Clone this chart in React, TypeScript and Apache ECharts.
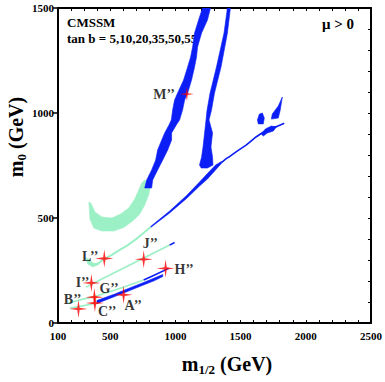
import React, { useEffect, useRef } from 'react';
import * as echarts from 'echarts';

type P = [number, number];

const SERIF = '"Liberation Serif", "Times New Roman", serif';

// axis tick labels
const X_LABELS = [100, 500, 1000, 1500, 2000, 2500];
const Y_LABELS = [0, 500, 1000, 1500];

// turquoise (bulk / coannihilation) region, m1/2 vs m0 in GeV
const GREEN_U: P[] = [
  [811, 657], [795, 610], [765, 562], [727, 519], [673, 486], [604, 455], [528, 438], [436, 438],
  [375, 452], [345, 495], [337, 576], [352, 571], [383, 529], [436, 505], [513, 500], [581, 519],
  [643, 548], [688, 590], [719, 633], [742, 667], [765, 681],
];

// wide blue funnel strip
const BAND_A: P[] = [
  [1208, 1500], [1178, 1443], [1147, 1381], [1132, 1314], [1117, 1267], [1094, 1219], [1063, 1157],
  [1017, 1095], [994, 1062], [979, 1014], [969, 967], [951, 943], [918, 905], [895, 871], [864, 824],
  [849, 776], [818, 729], [780, 681], [765, 643],
  [818, 643], [826, 681], [864, 729], [903, 776], [941, 824], [971, 871], [971, 905], [1007, 943],
  [1032, 967], [1055, 1014], [1071, 1062], [1094, 1095], [1124, 1157], [1147, 1219], [1162, 1267],
  [1170, 1314], [1201, 1381], [1246, 1443], [1269, 1500],
];

// thin blue strip with blob at its foot
const BAND_B: P[] = [
  [1399, 1500], [1373, 1381], [1315, 1219], [1266, 1095], [1243, 1014], [1235, 967], [1224, 905],
  [1212, 838], [1201, 790], [1185, 752], [1198, 738],
  [1246, 738], [1288, 752], [1285, 790], [1273, 838], [1285, 905], [1258, 967], [1277, 1014],
  [1300, 1095], [1350, 1219], [1399, 1381], [1422, 1500],
];

// tan b = 55 strip (thick part)
const BAND_C: P[] = [
  [811, 460], [956, 533], [1086, 607], [1185, 671], [1246, 712], [1308, 752], [1353, 769],
  [1353, 760], [1308, 729], [1246, 686], [1185, 652], [1086, 593], [956, 524], [811, 455],
];

// tan b = 55 strip (thin continuation)
const LINE_C: P[] = [
  [1353, 764], [1392, 784], [1415, 792], [1468, 816], [1545, 848], [1621, 887], [1667, 906],
  [1720, 927], [1774, 935], [1835, 951],
];

const BLOB_1: P[] = [[1659, 900], [1690, 924], [1736, 938], [1774, 933], [1751, 914], [1705, 905], [1674, 890]];
const BLOB_2: P[] = [[1820, 1076], [1804, 1014], [1789, 976], [1736, 971], [1743, 995], [1789, 1033]];
const BLOB_3: P[] = [[1644, 995], [1667, 1000], [1682, 976], [1674, 948], [1636, 948], [1629, 967]];

// WMAP strips at lower tan b
const LINE_L: P[] = [
  [322, 295], [360, 276], [406, 283], [444, 300], [513, 324], [574, 348], [635, 371], [704, 402],
  [765, 433], [811, 457],
];
const HOOK_L: P[] = [[314, 310], [329, 281], [367, 267], [413, 279], [367, 286], [337, 305]];
const LINE_J: P[] = [[314, 171], [421, 205], [574, 252], [727, 300], [880, 348], [956, 371]];
const TIP_J: P[] = [[956, 371], [994, 383]];
const LINE_H: P[] = [[176, 95], [268, 110], [383, 126], [536, 157], [650, 181], [757, 205]];
const TIP_H: P[] = [[757, 205], [841, 229], [948, 260]];
const LINE_C2: P[] = [[192, 71], [268, 79], [345, 88], [398, 98]];
const WEDGE_A: P[] = [
  [398, 107], [536, 138], [650, 167], [765, 195], [857, 219], [903, 231],
  [903, 221], [841, 202], [727, 174], [612, 145], [497, 117], [398, 93],
];

// benchmark points
const BENCH_NAMES = ['A’’', 'B’’', 'C’’', 'G’’', 'H’’', 'I’’', 'J’’', 'L’’', 'M’’'];
const BENCH_X = [603, 257, 383, 379, 925, 356, 757, 455, 1088];
const BENCH_Y = [134, 67, 95, 123, 260, 191, 303, 307, 1090];

// label placement (style only)
const LABEL_PLACE: Record<string, { align: string; offset: number[] }> = {
  'A’’': { align: 'left', offset: [1, 11] },
  'B’’': { align: 'right', offset: [3, -9] },
  'C’’': { align: 'left', offset: [3, 8] },
  'G’’': { align: 'left', offset: [5, -9] },
  'H’’': { align: 'left', offset: [9, 1] },
  'I’’': { align: 'right', offset: [-2, 0] },
  'J’’': { align: 'left', offset: [-1, -16] },
  'L’’': { align: 'right', offset: [-6, -2] },
  'M’’': { align: 'right', offset: [-12, 0] },
};

const BLUE = '#0a1ef5';
const GREEN = '#9cf0c6';
const RED = '#ff0000';

const STAR = 'path://M10,0 L11.3,8.7 L20,10 L11.3,11.3 L10,20 L8.7,11.3 L0,10 L8.7,8.7 Z';

function polySeries(pts: P[], color: string, z: number) {
  return {
    type: 'custom',
    xAxisIndex: 0,
    yAxisIndex: 0,
    data: pts,
    encode: { x: 0, y: 1 },
    silent: true,
    clip: true,
    z,
    renderItem: (params: any, api: any) => {
      if (params.dataIndex !== 0) return null;
      const points = pts.map((p) => api.coord(p));
      return {
        type: 'polygon',
        shape: { points },
        style: { fill: color, stroke: color, lineWidth: 0.6 },
      };
    },
  };
}

function lineSeries(pts: P[], color: string, width: number, z: number) {
  return {
    type: 'line',
    data: pts,
    showSymbol: false,
    silent: true,
    lineStyle: { color, width },
    z,
  };
}

export default function App() {
  const ref = useRef<HTMLDivElement>(null);

  useEffect(() => {
    if (!ref.current) return;
    const chart = echarts.init(ref.current, undefined, { renderer: 'svg' });

    const axisFont = { fontFamily: SERIF, fontWeight: 'bold', fontSize: 11, color: '#000' };
    const lineStyle = { color: '#000', width: 2 };

    const benchData = BENCH_NAMES.map((n, i) => ({
      name: n,
      value: [BENCH_X[i], BENCH_Y[i]],
      symbolSize: n === 'M’’' ? 14 : 18,
      label: {
        show: true,
        position: 'inside',
        formatter: n,
        align: LABEL_PLACE[n].align,
        verticalAlign: 'middle',
        offset: LABEL_PLACE[n].offset,
      },
    }));

    chart.setOption({
      animation: false,
      backgroundColor: '#fff',
      grid: { left: 58, right: 13, top: 8, bottom: 59, containLabel: false },
      xAxis: [
        {
          type: 'value',
          position: 'bottom',
          min: 100,
          max: 2500,
          interval: 100,
          axisLine: { show: true, onZero: false, lineStyle },
          axisTick: { show: true, inside: true, length: 3, lineStyle: { color: '#000', width: 1 } },
          axisLabel: {
            ...axisFont,
            margin: 7,
            showMinLabel: true,
            showMaxLabel: true,
            formatter: (v: number) => (X_LABELS.includes(v) ? String(v) : ''),
          },
          splitLine: { show: false },
        },
        {
          type: 'value',
          position: 'top',
          min: 100,
          max: 2500,
          interval: 100,
          axisLine: { show: true, onZero: false, lineStyle },
          axisTick: { show: true, inside: true, length: 3, lineStyle: { color: '#000', width: 1 } },
          axisLabel: { show: false },
          splitLine: { show: false },
        },
      ],
      yAxis: [
        {
          type: 'value',
          position: 'left',
          min: 0,
          max: 1500,
          interval: 500,
          axisLine: { show: true, onZero: false, lineStyle },
          axisTick: { show: true, inside: false, length: 5, lineStyle: { color: '#000', width: 1.5 } },
          axisLabel: {
            ...axisFont,
            margin: 4,
            formatter: (v: number) => (Y_LABELS.includes(v) ? String(v) : ''),
          },
          splitLine: { show: false },
        },
        {
          type: 'value',
          position: 'right',
          min: 0,
          max: 1500,
          interval: 100,
          axisLine: { show: true, onZero: false, lineStyle },
          axisTick: { show: true, inside: true, length: 3, lineStyle: { color: '#000', width: 1 } },
          axisLabel: { show: false },
          splitLine: { show: false },
        },
      ],
      series: [
        polySeries(GREEN_U, GREEN, 1),
        polySeries(BAND_A, BLUE, 2),
        polySeries(BAND_B, BLUE, 2),
        polySeries(BAND_C, BLUE, 2),
        lineSeries(LINE_C, BLUE, 1.6, 2),
        polySeries(BLOB_1, BLUE, 2),
        polySeries(BLOB_2, BLUE, 2),
        polySeries(BLOB_3, BLUE, 2),
        lineSeries(LINE_L, GREEN, 2, 3),
        polySeries(HOOK_L, GREEN, 3),
        lineSeries(LINE_J, GREEN, 1.6, 3),
        lineSeries(TIP_J, BLUE, 1.6, 3),
        lineSeries(LINE_H, GREEN, 1.6, 3),
        lineSeries(TIP_H, BLUE, 1.6, 3),
        lineSeries(LINE_C2, GREEN, 1.6, 3),
        polySeries(WEDGE_A, BLUE, 3),
        {
          type: 'scatter',
          data: benchData,
          symbol: STAR,
          itemStyle: { color: RED },
          silent: true,
          z: 5,
          label: {
            color: '#000',
            fontFamily: SERIF,
            fontWeight: 'bold',
            fontSize: 14,
          },
        },
      ],
      graphic: [
        {
          type: 'text',
          x: 67,
          y: 16,
          style: { text: 'CMSSM', font: `bold 13px ${SERIF}`, fill: '#000' },
        },
        {
          type: 'text',
          x: 67,
          y: 32,
          style: { text: 'tan b = 5,10,20,35,50,55', font: `bold 13px ${SERIF}`, fill: '#000' },
        },
        {
          type: 'text',
          x: 322,
          y: 16,
          style: { text: 'μ > 0', font: `bold 15px ${SERIF}`, fill: '#000' },
        },
        {
          type: 'text',
          x: 227,
          y: 364,
          style: {
            text: '{m|m}{s|1/2}{m| (GeV)}',
            align: 'center',
            verticalAlign: 'middle',
            fill: '#000',
            rich: {
              m: { fontSize: 20, fontWeight: 'bold', fontFamily: SERIF, lineHeight: 24, verticalAlign: 'middle' },
              s: { fontSize: 13, fontWeight: 'bold', fontFamily: SERIF, lineHeight: 13, verticalAlign: 'bottom' },
            },
          },
        },
        {
          type: 'text',
          x: 16,
          y: 137,
          rotation: Math.PI / 2,
          style: {
            text: '{m|m}{s|0}{m| (GeV)}',
            align: 'center',
            verticalAlign: 'middle',
            fill: '#000',
            rich: {
              m: { fontSize: 20, fontWeight: 'bold', fontFamily: SERIF, lineHeight: 24, verticalAlign: 'middle' },
              s: { fontSize: 13, fontWeight: 'bold', fontFamily: SERIF, lineHeight: 13, verticalAlign: 'bottom' },
            },
          },
        },
      ],
    });

    return () => chart.dispose();
  }, []);

  return <div ref={ref} style={{ position: 'fixed', left: 0, top: 0, width: 385, height: 382 }} />;
}
